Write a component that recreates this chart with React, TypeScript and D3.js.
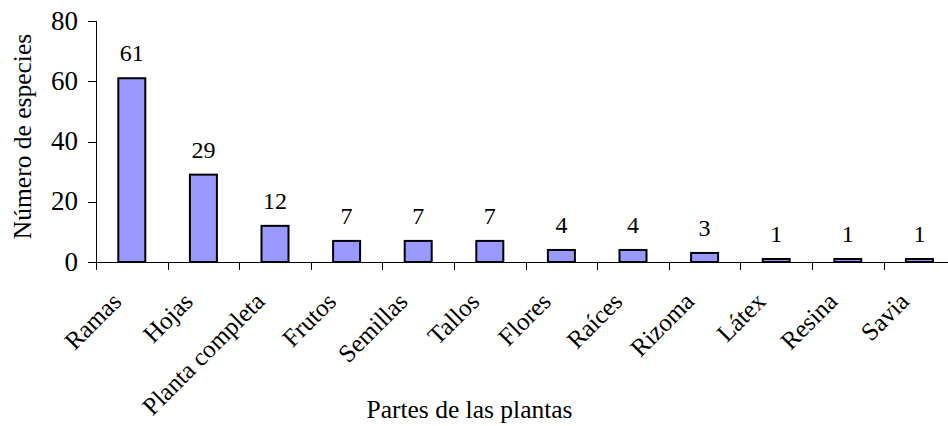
import React from "react";
import * as d3 from "d3";

const categories = ["Ramas", "Hojas", "Planta completa", "Frutos", "Semillas", "Tallos", "Flores", "Raíces", "Rizoma", "Látex", "Resina", "Savia"];
const values = [61, 29, 12, 7, 7, 7, 4, 4, 3, 1, 1, 1];
const yTicks = [0, 20, 40, 60, 80];
const yTitle = "Número de especies";
const xTitle = "Partes de las plantas";

const W = 948;
const H = 426;
const FONT = "'Liberation Serif', 'Times New Roman', serif";

export default function App() {
  const x = d3.scaleBand<string>().domain(categories).range([96, 96 + 12 * 71.6]).padding(0);
  const y = d3.scaleLinear().domain([0, 80]).range([262, 21]);
  const bw = x.bandwidth();
  const barW = 27;
  const boundaries = categories.map((c) => x(c) as number).concat([(x(categories[categories.length - 1]) as number) + bw]);

  return (
    <svg width={W} height={H} style={{ position: "absolute", left: 0, top: 0, background: "#fff" }} fontFamily={FONT}>
      {/* bars */}
      {categories.map((c, i) => {
        const cx = (x(c) as number) + bw / 2;
        return (
          <rect key={c} x={cx - barW / 2} y={y(values[i])} width={barW} height={y(0) - y(values[i])}
            fill="#9999FF" stroke="#000" strokeWidth={2} />
        );
      })}
      {/* value labels */}
      {categories.map((c, i) => {
        const cx = (x(c) as number) + bw / 2;
        return (
          <text key={"v" + c} x={cx} y={y(values[i]) - 17} textAnchor="middle" fontSize={24} fill="#000">
            {values[i]}
          </text>
        );
      })}
      {/* y axis */}
      <line x1={96.5} x2={96.5} y1={y(80)} y2={y(0)} stroke="#000" strokeWidth={1} />
      {yTicks.map((t) => (
        <g key={"yt" + t}>
          <line x1={88} x2={96.5} y1={Math.round(y(t)) + 0.5} y2={Math.round(y(t)) + 0.5} stroke="#000" strokeWidth={1} />
          <text x={78} y={y(t) + 8.5} textAnchor="end" fontSize={27} fill="#000">{t}</text>
        </g>
      ))}
      {/* x axis */}
      <line x1={96} x2={96 + 12 * 71.6} y1={262.5} y2={262.5} stroke="#000" strokeWidth={1} />
      {boundaries.map((b, i) => (
        <line key={"xt" + i} x1={Math.round(b) + 0.5} x2={Math.round(b) + 0.5} y1={262.5} y2={270} stroke="#000" strokeWidth={1} />
      ))}
      {categories.map((c) => {
        const cx = (x(c) as number) + bw / 2;
        const ax = cx - 9;
        const ay = 303;
        return (
          <text key={"xl" + c} x={ax} y={ay} textAnchor="end" fontSize={25} fill="#000"
            transform={`rotate(-45, ${ax}, ${ay})`}>
            {c}
          </text>
        );
      })}
      {/* titles */}
      <text x={469.5} y={418} textAnchor="middle" fontSize={25.5} fill="#000">{xTitle}</text>
      <text transform={`translate(31, 136.5) rotate(-90)`} textAnchor="middle" fontSize={25.5} fill="#000">{yTitle}</text>
    </svg>
  );
}
